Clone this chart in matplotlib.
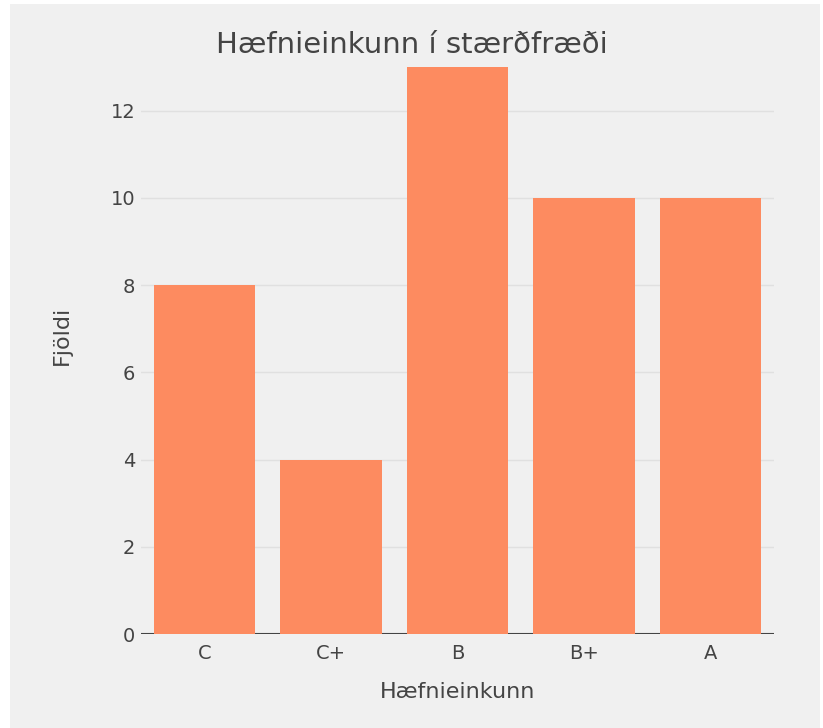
import matplotlib
matplotlib.use('Agg')
import matplotlib.pyplot as plt
from matplotlib.patches import Rectangle

# data
grades = ['C', 'C+', 'B', 'B+', 'A']
counts = [8, 4, 13, 10, 10]
yticks = [0, 2, 4, 6, 8, 10, 12]

bg = '#f0f0f0'
txt = '#444444'

plt.rcParams['font.family'] = ['DejaVu Sans']

fig = plt.figure(figsize=(8.23, 7.28), dpi=100, facecolor='white')
# grey panel with thin white margin like the screenshot
fig.patches.append(Rectangle((10/823, 0), (820-10)/823, (728-4)/728,
                             transform=fig.transFigure, facecolor=bg,
                             edgecolor='none', zorder=0))

ax = fig.add_axes([141/823, 94/728, 633/823, 596.5/728])
ax.set_zorder(1)
ax.set_facecolor(bg)

x = list(range(len(grades)))
ax.bar(x, counts, width=0.8, color='#fd8b60', zorder=2)
ax.axhline(0, color=txt, lw=1.5, zorder=1)

ax.set_xlim(-0.5, len(grades) - 0.5)
ax.set_ylim(0, 13.68)
ax.set_yticks(yticks)
ax.set_xticks(x)
ax.set_xticklabels(grades)
ax.grid(axis='y', color='#e0e0e0', lw=1, zorder=0)
ax.set_axisbelow(True)
for s in ax.spines.values():
    s.set_visible(False)
ax.tick_params(axis='both', length=0, colors=txt, labelsize=14)
ax.tick_params(axis='x', pad=7)
ax.tick_params(axis='y', pad=4)

ax.set_xlabel('Hæfnieinkunn', fontsize=16, color=txt, labelpad=14)
ax.set_ylabel('Fjöldi', fontsize=16, color=txt, labelpad=28)
fig.text(412/823, 1 - 45/728, 'Hæfnieinkunn í stærðfræði', ha='center',
         va='center', fontsize=21, color=txt)

fig.savefig('out.png', dpi=100, facecolor=fig.get_facecolor())
